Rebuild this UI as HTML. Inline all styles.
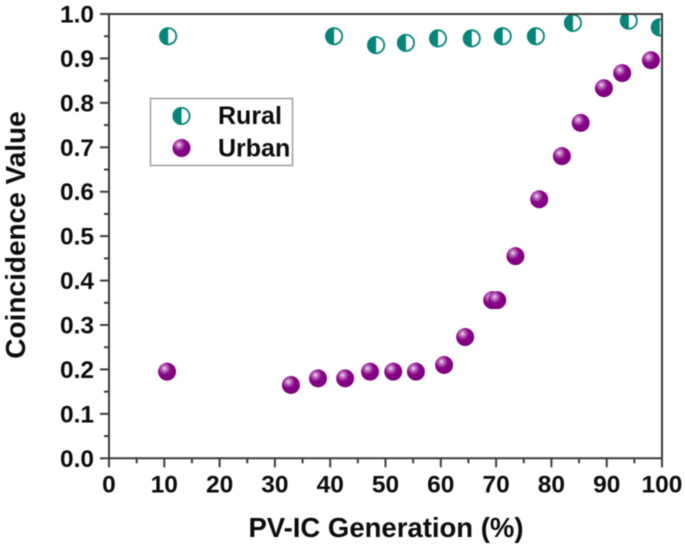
<!DOCTYPE html>
<html>
<head>
<meta charset="utf-8">
<style>
html,body{margin:0;padding:0;background:#fff;width:685px;height:546px;overflow:hidden}
svg{display:block;filter:blur(0.6px)}
text{font-family:"Liberation Sans",sans-serif;font-weight:bold;fill:#0c0c0c}
</style>
</head>
<body>
<svg id="chart" width="685" height="546" viewBox="0 0 685 546" xmlns="http://www.w3.org/2000/svg">
<defs>
<radialGradient id="ball" cx="0.36" cy="0.32" r="0.7">
<stop offset="0" stop-color="#f0dcf0"/>
<stop offset="0.2" stop-color="#c070c0"/>
<stop offset="0.5" stop-color="#870587"/>
<stop offset="1" stop-color="#7d007d"/>
</radialGradient>
<clipPath id="plot-clip"><rect x="109" y="14" width="553" height="444.3"/></clipPath>
</defs>
<g id="marks" clip-path="url(#plot-clip)"></g>
<g id="axes"></g>
<text transform="translate(25,235) rotate(-90)" text-anchor="middle" font-size="28">Coincidence Value</text>
<text x="386" y="537" text-anchor="middle" font-size="27.5">PV-IC Generation (%)</text>
<g>
<rect x="150.5" y="98.5" width="142" height="67" fill="#fff" stroke="#999" stroke-width="1.4"/>
<g id="legend-marks"></g>
<text x="218" y="124" font-size="25">Rural</text>
<text x="218" y="156.5" font-size="25">Urban</text>
</g>
</svg>
<script>
const ruralX = [10.7, 40.7, 48.3, 53.7, 59.5, 65.6, 71.2, 77.2, 83.9, 94.0, 99.6];
const ruralY = [0.95, 0.95, 0.93, 0.935, 0.945, 0.945, 0.95, 0.95, 0.98, 0.985, 0.97];
const urbanX = [10.5, 32.9, 37.8, 42.7, 47.2, 51.4, 55.5, 60.6, 64.4, 69.3, 70.2, 73.5, 77.8, 81.9, 85.3, 89.5, 92.8, 98.0];
const urbanY = [0.195, 0.165, 0.18, 0.18, 0.195, 0.195, 0.195, 0.21, 0.273, 0.356, 0.356, 0.455, 0.583, 0.68, 0.755, 0.833, 0.867, 0.896];
const xTickLabels = ["0","10","20","30","40","50","60","70","80","90","100"];
const yTickLabels = ["0.0","0.1","0.2","0.3","0.4","0.5","0.6","0.7","0.8","0.9","1.0"];

const NS = "http://www.w3.org/2000/svg";
const left = 109, right = 662, top_ = 14, bottom = 458.3;
function sx(v){ return left + (v / 100) * (right - left); }
function sy(v){ return bottom - v * (bottom - top_); }
function make(tag, attrs, parent){
  const el = document.createElementNS(NS, tag);
  for (const k in attrs) el.setAttribute(k, attrs[k]);
  parent.appendChild(el);
  return el;
}
function halfMarker(cx, cy, r, parent){
  const g = make("g", {}, parent);
  
  
  make("circle", {cx: cx, cy: cy, r: r - 0.9, fill: "#fff", stroke: "#058479", "stroke-width": 1.8}, g);
  make("path", {d: "M" + cx + " " + (cy - r) + " A" + r + " " + r + " 0 0 0 " + cx + " " + (cy + r) + " Z", fill: "#058479"}, g);
}
function ballMarker(cx, cy, r, parent){
  const c = make("circle", {cx: cx, cy: cy, r: r, fill: "url(#ball)"}, parent);
  
  
}
const marks = document.getElementById("marks");
ruralX.forEach(function(v, i){ halfMarker(sx(v), sy(ruralY[i]), 9, marks); });
urbanX.forEach(function(v, i){ ballMarker(sx(v), sy(urbanY[i]), 9, marks); });

const legendMarks = document.getElementById("legend-marks");
halfMarker(181.5, 116, 9, legendMarks);
ballMarker(181.5, 148, 9, legendMarks);

const axes = document.getElementById("axes");
const axisColor = "#3c3c3c";
const frame = make("path", {d: "M" + left + " " + bottom + " V" + top_ + " H" + right + " V" + bottom + " H" + left, fill: "none", stroke: axisColor, "stroke-width": 2}, axes);



xTickLabels.forEach(function(label, i){
  const v = Number(label);
  const x = sx(v);
  const t = make("line", {x1: x, x2: x, y1: bottom, y2: bottom + 9, stroke: axisColor, "stroke-width": 2}, axes);
  
  
  const txt = make("text", {x: x, y: 492.5, "text-anchor": "middle", "font-size": 24.5}, axes);
  
  
  txt.textContent = label;
  if (i < xTickLabels.length - 1) {
    const mx = sx(v + 5);
    const m = make("line", {x1: mx, x2: mx, y1: bottom, y2: bottom + 5, stroke: axisColor, "stroke-width": 2}, axes);
    
    
  }
});
yTickLabels.forEach(function(label, i){
  const v = Number(label);
  const y = sy(v);
  const t = make("line", {x1: left - 9, x2: left, y1: y, y2: y, stroke: axisColor, "stroke-width": 2}, axes);
  
  
  const txt = make("text", {x: 94, y: y + 8.5, "text-anchor": "end", "font-size": 24.5}, axes);
  
  
  txt.textContent = label;
  if (i < yTickLabels.length - 1) {
    const my = sy(v + 0.05);
    const m = make("line", {x1: left - 5, x2: left, y1: my, y2: my, stroke: axisColor, "stroke-width": 2}, axes);
    
    
  }
});
</script>
</body>
</html>
